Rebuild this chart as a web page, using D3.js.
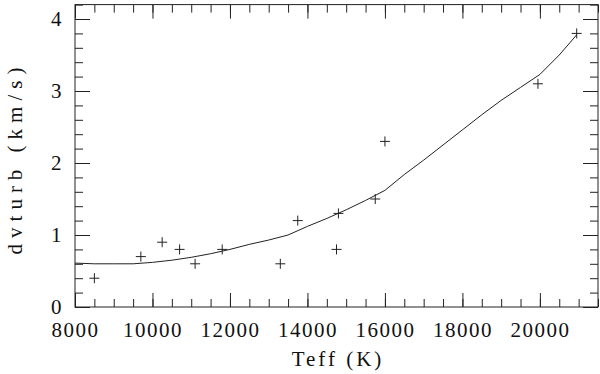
<!DOCTYPE html>
<html lang="en">
<head>
<meta charset="utf-8">
<title>dvturb vs Teff</title>
<script src="https://cdn.jsdelivr.net/npm/d3@7"></script>
<style>
  body { margin: 0; background: #fff; }
  svg text { font-family: "Liberation Serif", "Times New Roman", serif; fill: #111; }
  .tick text { font-size: 21px; letter-spacing: 1.5px; }
  .axis path, .axis line { stroke: #222; stroke-width: 1; }
  .frame { fill: none; stroke: #222; stroke-width: 1; }
  .model { fill: none; stroke: #222; stroke-width: 1; }
  .pt { stroke: #222; stroke-width: 1; }
</style>
</head>
<body>
<svg width="600" height="374"></svg>
<script>
// observed points
var teffObs = [8500, 9700, 10250, 10700, 11100, 11800, 13300, 13750, 14750, 14800, 15750, 16000, 19950, 20950];
var vtObs   = [0.4, 0.7, 0.9, 0.8, 0.6, 0.8, 0.6, 1.2, 0.8, 1.3, 1.5, 2.3, 3.1, 3.8];

// model curve
var teffFit = [8000, 8500, 9000, 9500, 10000, 10500, 11000, 11500, 12000, 12500, 13000, 13500,
               14000, 14500, 15000, 15500, 16000, 16500, 17000, 17500, 18000, 18500, 19000,
               19500, 20000, 20500, 20950];
var vtFit   = [0.61, 0.60, 0.60, 0.60, 0.62, 0.65, 0.69, 0.74, 0.80, 0.87, 0.93, 1.00,
               1.12, 1.23, 1.35, 1.48, 1.62, 1.84, 2.04, 2.25, 2.46, 2.67, 2.87,
               3.05, 3.23, 3.50, 3.78];

var xTicks = [8000, 10000, 12000, 14000, 16000, 18000, 20000];
var yTicks = [0, 1, 2, 3, 4];

var svg = d3.select("svg");
var pL = 75, pR = 598, pT = 4.6, pB = 307;

var x = d3.scaleLinear().domain([8000, 21500]).range([pL, pR]);
var y = d3.scaleLinear().domain([0, 4.2]).range([pB, pT]);

var xMinor = d3.range(8000, 21501, 500);
var yMinor = d3.range(0, 4.21, 0.2);

// minor ticks, all four sides
svg.append("g").attr("class", "axis").attr("transform", "translate(0," + pB + ")")
   .call(d3.axisBottom(x).tickValues(xMinor).tickSize(-8).tickFormat(""));
svg.append("g").attr("class", "axis").attr("transform", "translate(0," + pT + ")")
   .call(d3.axisTop(x).tickValues(xMinor).tickSize(-8).tickFormat(""));
svg.append("g").attr("class", "axis").attr("transform", "translate(" + pL + ",0)")
   .call(d3.axisLeft(y).tickValues(yMinor).tickSize(-8).tickFormat(""));
svg.append("g").attr("class", "axis").attr("transform", "translate(" + pR + ",0)")
   .call(d3.axisRight(y).tickValues(yMinor).tickSize(-8).tickFormat(""));

// major ticks with labels
svg.append("g").attr("class", "axis").attr("transform", "translate(0," + pB + ")")
   .call(d3.axisBottom(x).tickValues(xTicks).tickSize(-14).tickPadding(15).tickFormat(d3.format("d")));
svg.append("g").attr("class", "axis").attr("transform", "translate(0," + pT + ")")
   .call(d3.axisTop(x).tickValues(xTicks).tickSize(-14).tickFormat(""));
svg.append("g").attr("class", "axis").attr("transform", "translate(" + pL + ",0)")
   .call(d3.axisLeft(y).tickValues(yTicks).tickSize(-15).tickPadding(12).tickFormat(d3.format("d")));
svg.append("g").attr("class", "axis").attr("transform", "translate(" + pR + ",0)")
   .call(d3.axisRight(y).tickValues(yTicks).tickSize(-15).tickFormat(""));

svg.selectAll(".axis .domain").remove();
svg.selectAll(".axis").attr("font-size", null).attr("font-family", null);

svg.append("rect").attr("class", "frame")
   .attr("x", pL).attr("y", pT).attr("width", pR - pL).attr("height", pB - pT);

// model line
var fit = teffFit.map(function(d, i) { return [d, vtFit[i]]; });
var line = d3.line().x(function(d) { return x(d[0]); }).y(function(d) { return y(d[1]); });
svg.append("path").attr("class", "model").attr("d", line(fit));

// crosses
var obs = teffObs.map(function(d, i) { return { t: d, v: vtObs[i] }; });
var pts = svg.append("g").selectAll("g").data(obs).enter().append("g")
   .attr("transform", function(d) { return "translate(" + x(d.t) + "," + y(d.v) + ")"; });
pts.append("line").attr("class", "pt").attr("x1", -5).attr("x2", 5);
pts.append("line").attr("class", "pt").attr("y1", -5).attr("y2", 5);

// axis titles
svg.append("text").attr("x", 338).attr("y", 366).attr("text-anchor", "middle")
   .attr("font-size", 21).attr("letter-spacing", 3).text("Teff (K)");
svg.append("text").attr("transform", "translate(22,158) rotate(-90)").attr("text-anchor", "middle")
   .attr("font-size", 21).attr("letter-spacing", 6).text("dvturb (km/s)");
</script>
</body>
</html>
